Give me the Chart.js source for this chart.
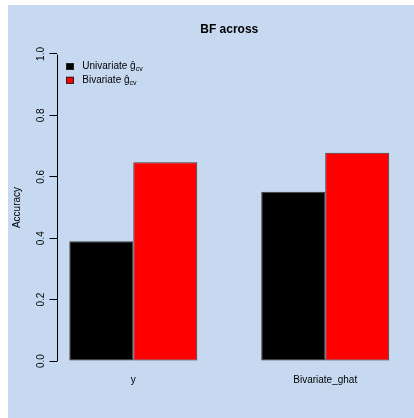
<!DOCTYPE html>
<html>
<head>
<meta charset="utf-8">
<script src="https://cdn.jsdelivr.net/npm/chart.js@4.4.0/dist/chart.umd.min.js"></script>
<style>
  html, body { margin: 0; padding: 0; background: #ffffff; }
  #wrap { position: absolute; left: 8px; top: 5px; width: 406px; height: 413px; background: #C6D9F0; }
</style>
</head>
<body>
<div id="wrap"><canvas id="myChart" width="406" height="413"></canvas></div>
<script>
// Données
const categories = ['y', 'Bivariate_ghat'];
const seriesNames = ['Univariate', 'Bivariate'];
const univariate = [0.39, 0.551];
const bivariate = [0.647, 0.678];
const yTicks = [0, 0.2, 0.4, 0.6, 0.8, 1.0];
const seriesColors = ['#000000', '#ff0000'];

// position des groupes comme barplot(beside=TRUE) : 2 barres + 1 espace
const groupPos = categories.map((c, i) => 2 + 3 * i);

const canvas = document.getElementById('myChart');
const ctx = canvas.getContext('2d');

// ligne de l'axe y seulement entre 0 et 1 (style R)
const axisLinePlugin = {
  id: 'rAxisLine',
  afterDraw(chart) {
    const c = chart.ctx;
    const s = chart.scales.y;
    const x = Math.round(chart.chartArea.left) + 0.5;
    c.save();
    c.strokeStyle = '#000';
    c.lineWidth = 1;
    c.beginPath();
    c.moveTo(x, Math.round(s.getPixelForValue(yTicks[0])) + 0.5);
    c.lineTo(x, Math.round(s.getPixelForValue(yTicks[yTicks.length - 1])) + 0.5);
    c.stroke();
    c.restore();
  }
};

// légende avec indice "cv"
const legendPlugin = {
  id: 'rLegend',
  afterDraw(chart) {
    const c = chart.ctx;
    c.save();
    chart.data.datasets.forEach(function(ds, i) {
      const y = 61.5 + i * 13.8;
      c.fillStyle = ds.backgroundColor;
      c.fillRect(58, y - 3.5, 8, 7);
      c.strokeStyle = '#222';
      c.lineWidth = 1;
      c.strokeRect(58.5, y - 3, 7, 6);
      c.fillStyle = '#000';
      c.textBaseline = 'middle';
      c.textAlign = 'left';
      c.font = '10px "Liberation Sans", Arial, sans-serif';
      const main = seriesNames[i] + ' \u011D';
      c.fillText(main, 74.3, y);
      const w = c.measureText(main).width;
      c.font = '7px "Liberation Sans", Arial, sans-serif';
      c.fillText('cv', 74.3 + w, y + 3);
    });
    c.restore();
  }
};

const data = {
  datasets: [
    {
      label: seriesNames[0],
      data: univariate.map((v, i) => ({ x: groupPos[i], y: v })),
      backgroundColor: seriesColors[0],
      borderColor: '#3a3a3a',
      borderWidth: 1,
      borderSkipped: false
    },
    {
      label: seriesNames[1],
      data: bivariate.map((v, i) => ({ x: groupPos[i], y: v })),
      backgroundColor: seriesColors[1],
      borderColor: '#3a3a3a',
      borderWidth: 1,
      borderSkipped: false
    }
  ]
};

const options = {
  responsive: false,
  animation: false,
  layout: { padding: { left: 0, right: 12, top: 0, bottom: 0 } },
  categoryPercentage: 2 / 3,
  barPercentage: 1,
  plugins: {
    legend: { display: false },
    tooltip: { enabled: false },
    title: {
      display: true,
      text: 'BF across',
      fullSize: false,
      color: '#000',
      font: { family: '"Liberation Sans", Arial, sans-serif', size: 12, weight: 'bold' },
      padding: { top: 17.8, bottom: 4.5 }
    }
  },
  scales: {
    x: {
      type: 'linear',
      min: 0.8,
      max: 6.2,
      offset: false,
      afterBuildTicks: function(scale) {
        scale.ticks = groupPos.map(v => ({ value: v }));
      },
      afterFit: function(scale) { scale.height = 44.7; },
      grid: { display: false, drawTicks: false, offset: false },
      border: { display: false },
      ticks: {
        color: '#000',
        padding: 1,
        maxRotation: 0,
        font: { family: '"Liberation Sans", Arial, sans-serif', size: 10 },
        callback: function(value) {
          const i = groupPos.indexOf(value);
          return i >= 0 ? categories[i] : '';
        }
      }
    },
    y: {
      min: -0.04,
      max: 1.04,
      afterBuildTicks: function(scale) {
        scale.ticks = yTicks.map(v => ({ value: v }));
      },
      afterFit: function(scale) { scale.width = 48.5; },
      grid: { display: true, drawOnChartArea: false, drawTicks: true, tickLength: 7, color: '#000', lineWidth: 1 },
      border: { display: false },
      title: {
        display: true,
        text: 'Accuracy',
        color: '#000',
        font: { family: '"Liberation Sans", Arial, sans-serif', size: 10 },
        padding: { top: 3, bottom: 0 }
      },
      ticks: {
        color: '#000',
        minRotation: 90,
        maxRotation: 90,
        crossAlign: 'center',
        padding: 1,
        font: { family: '"Liberation Sans", Arial, sans-serif', size: 10 },
        callback: function(value) { return value.toFixed(1); }
      }
    }
  }
};

const myChart = new Chart(ctx, {
  type: 'bar',
  data: data,
  options: options,
  plugins: [axisLinePlugin, legendPlugin]
});
</script>
</body>
</html>
